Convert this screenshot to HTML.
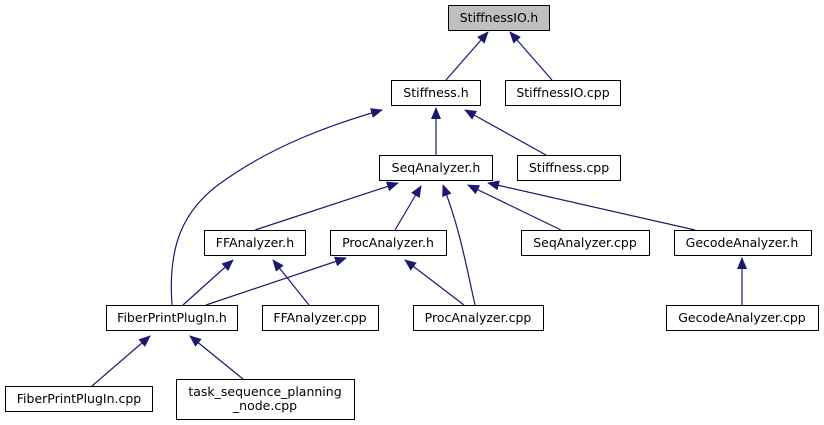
<!DOCTYPE html>
<html><head><meta charset="utf-8"><style>
html,body{margin:0;padding:0;background:#fff;}
svg{display:block;}
text{font-family:"DejaVu Sans","Liberation Sans",sans-serif;font-size:12.5px;fill:#000;}
</style></head><body>
<svg width="824" height="425" viewBox="0 0 824 425" xmlns="http://www.w3.org/2000/svg">
<defs>
<marker id="a" markerWidth="12" markerHeight="10" refX="11" refY="5" orient="auto" markerUnits="userSpaceOnUse">
<path d="M0,0 L12,5 L0,10 Z" fill="#191970"/>
</marker>
</defs>
<g stroke="#191970" stroke-width="1.2" fill="none" marker-end="url(#a)">
<line x1="446" y1="80" x2="488" y2="32"/>
<line x1="552" y1="80" x2="510" y2="32"/>
<line x1="436" y1="155" x2="436" y2="108"/>
<line x1="546" y1="155" x2="465" y2="110"/>
<path d="M172,305 C168,250 180,210 225,180 C275,145 330,125 382,110"/>
<line x1="255" y1="230" x2="398" y2="183"/>
<line x1="395" y1="230" x2="421" y2="186"/>
<path d="M475,305 C465,260 460,230 443,185"/>
<line x1="561" y1="230" x2="468" y2="185"/>
<line x1="695" y1="230" x2="488" y2="183"/>
<line x1="183" y1="305" x2="233" y2="260"/>
<line x1="206" y1="305" x2="346" y2="258"/>
<line x1="309" y1="305" x2="273" y2="260"/>
<line x1="464" y1="305" x2="405" y2="260"/>
<line x1="742" y1="305" x2="742" y2="258"/>
<line x1="92" y1="386" x2="150" y2="336"/>
<line x1="243" y1="379" x2="190" y2="336"/>
</g>
<g stroke="#000" stroke-width="1" fill="#fff">
<rect x="448.5" y="5.5" width="101" height="25" fill="#bfbfbf"/>
<rect x="391.5" y="80.5" width="89" height="25"/>
<rect x="505.5" y="80.5" width="115" height="25"/>
<rect x="379.5" y="155.5" width="113" height="25"/>
<rect x="517.5" y="155.5" width="103" height="25"/>
<rect x="204.5" y="230.5" width="101" height="25"/>
<rect x="330.5" y="230.5" width="116" height="25"/>
<rect x="521.5" y="230.5" width="128" height="25"/>
<rect x="674.5" y="230.5" width="137" height="25"/>
<rect x="106.5" y="305.5" width="131" height="25"/>
<rect x="262.5" y="305.5" width="116" height="25"/>
<rect x="413.5" y="305.5" width="130" height="25"/>
<rect x="666.5" y="305.5" width="152" height="25"/>
<rect x="5.5" y="386.5" width="147" height="25"/>
<rect x="176.5" y="379.5" width="178" height="40"/>
</g>
<g text-anchor="middle">
<text x="499" y="22">StiffnessIO.h</text>
<text x="436" y="97">Stiffness.h</text>
<text x="563" y="97">StiffnessIO.cpp</text>
<text x="436" y="172">SeqAnalyzer.h</text>
<text x="569" y="172">Stiffness.cpp</text>
<text x="255" y="247">FFAnalyzer.h</text>
<text x="388" y="247">ProcAnalyzer.h</text>
<text x="585" y="247">SeqAnalyzer.cpp</text>
<text x="742" y="247">GecodeAnalyzer.h</text>
<text x="172" y="322">FiberPrintPlugIn.h</text>
<text x="320" y="322">FFAnalyzer.cpp</text>
<text x="478" y="322">ProcAnalyzer.cpp</text>
<text x="742" y="322">GecodeAnalyzer.cpp</text>
<text x="79" y="403">FiberPrintPlugIn.cpp</text>
<text x="265" y="396">task_sequence_planning</text>
<text x="265" y="410">_node.cpp</text>
</g>
</svg>
</body></html>
